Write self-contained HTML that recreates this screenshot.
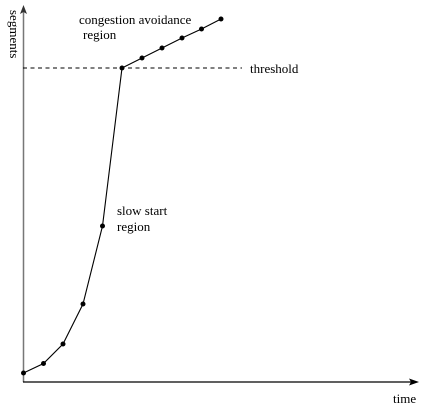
<!DOCTYPE html>
<html><head><style>html,body{margin:0;padding:0;background:#fff;}svg{display:block}</style></head><body>
<svg width="435" height="414" xmlns="http://www.w3.org/2000/svg" font-family="Liberation Serif, serif" font-size="13" fill="#000">
<line x1="23.5" y1="382" x2="23.5" y2="8" stroke="#777" stroke-width="1.5"/>
<polygon points="23.5,5 20,14 23.5,12 27,14" fill="#333"/>
<line x1="23" y1="382" x2="416" y2="382" stroke="#000" stroke-width="1.3"/>
<polygon points="419,382 409,378.5 411,382 409,385.5" fill="#000"/>
<line x1="23" y1="68" x2="242" y2="68" stroke="#000" stroke-width="1" stroke-dasharray="4,3.5"/>
<polyline points="23.5,373 43.5,363.5 63,344 83,304 102.5,226 122,68 142,58 162,48 182,38 201.5,29 221,19" fill="none" stroke="#000" stroke-width="1.1"/>
<g fill="#000">
<circle cx="23.5" cy="373" r="2.5"/><circle cx="43.5" cy="363.5" r="2.5"/><circle cx="63" cy="344" r="2.5"/><circle cx="83" cy="304" r="2.5"/><circle cx="102.5" cy="226" r="2.5"/><circle cx="122" cy="68" r="2.5"/><circle cx="142" cy="58" r="2.5"/><circle cx="162" cy="48" r="2.5"/><circle cx="182" cy="38" r="2.5"/><circle cx="201.5" cy="29" r="2.5"/><circle cx="221" cy="19" r="2.5"/>
</g>
<text x="79" y="24">congestion avoidance</text>
<text x="83" y="39">region</text>
<text x="250" y="73">threshold</text>
<text x="117" y="215">slow start</text>
<text x="117" y="231">region</text>
<text x="393" y="403">time</text>
<text transform="translate(10,10) rotate(90)" x="0" y="0">segments</text>
</svg>
</body></html>
